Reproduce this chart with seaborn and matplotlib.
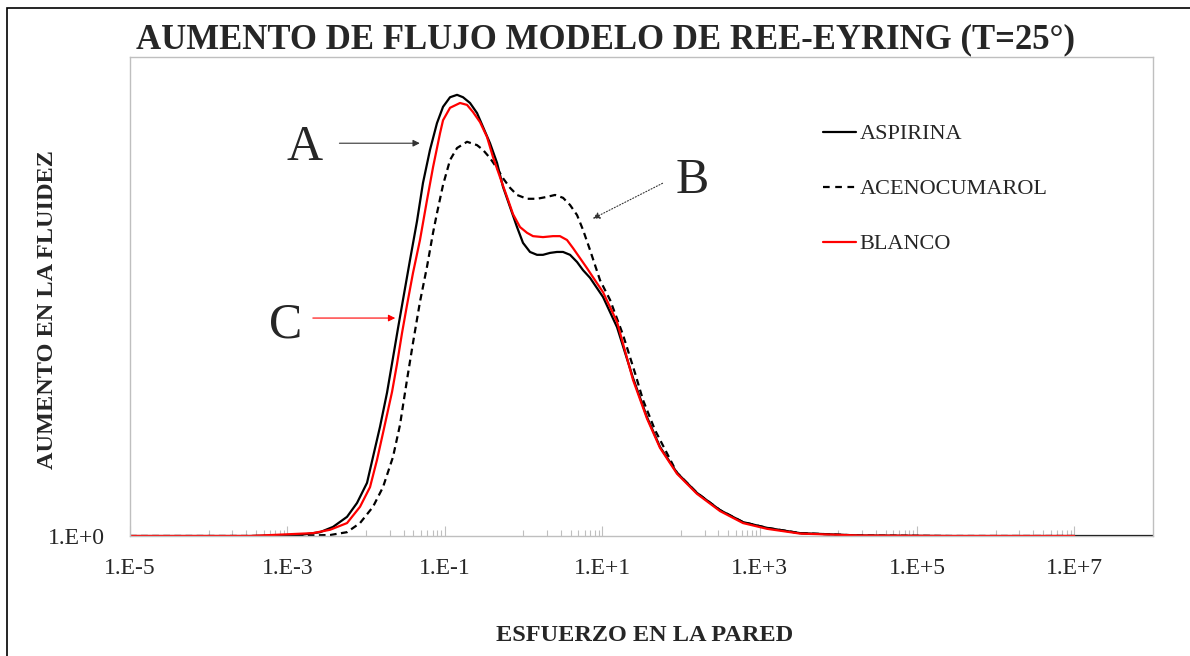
import numpy as np
import pandas as pd
import matplotlib
matplotlib.use('Agg')
import matplotlib.pyplot as plt
import matplotlib.ticker as mticker
from matplotlib.lines import Line2D
from matplotlib.patches import Rectangle
import seaborn as sns

# log10(esfuerzo en la pared) and aumento en la fluidez
aspirina_logx = [-5.000, -3.475, -2.840, -2.585, -2.420, -2.242, -2.115, -1.988, -1.912, -1.823,
                 -1.734, -1.658, -1.594, -1.531, -1.442, -1.353, -1.277, -1.188, -1.099, -1.022,
                 -0.933, -0.844, -0.768, -0.679, -0.590, -0.514, -0.425, -0.336, -0.260, -0.171,
                 -0.082, -0.006, 0.083, 0.172, 0.248, 0.337, 0.426, 0.503, 0.592, 0.681,
                 0.757, 0.846, 1.011, 1.189, 1.392, 1.570, 1.735, 1.951, 2.205, 2.498,
                 2.790, 3.095, 3.514, 4.277, 5.420, 8.000]
aspirina_y = [1.000, 1.000, 1.002, 1.008, 1.019, 1.040, 1.069, 1.111, 1.165, 1.228,
              1.299, 1.372, 1.434, 1.493, 1.576, 1.657, 1.737, 1.806, 1.862, 1.896,
              1.916, 1.921, 1.916, 1.904, 1.883, 1.854, 1.820, 1.779, 1.729, 1.687,
              1.645, 1.612, 1.593, 1.587, 1.587, 1.591, 1.593, 1.593, 1.587, 1.572,
              1.555, 1.539, 1.499, 1.436, 1.330, 1.248, 1.186, 1.132, 1.090, 1.054,
              1.029, 1.017, 1.006, 1.001, 1.000, 1.000]

aceno_logx = [-5.000, -3.094, -2.458, -2.242, -2.077, -1.912, -1.785, -1.658, -1.569, -1.480,
              -1.404, -1.315, -1.226, -1.149, -1.099, -1.022, -0.933, -0.844, -0.717, -0.590,
              -0.514, -0.425, -0.336, -0.260, -0.171, -0.082, 0.045, 0.172, 0.299, 0.401,
              0.503, 0.592, 0.681, 0.757, 0.846, 0.973, 1.100, 1.265, 1.418, 1.519,
              1.672, 1.951, 2.205, 2.498, 2.790, 3.095, 3.514, 4.277, 5.420, 7.000]
aceno_y = [1.000, 1.000, 1.002, 1.008, 1.027, 1.061, 1.102, 1.165, 1.232, 1.326,
           1.403, 1.489, 1.562, 1.633, 1.674, 1.733, 1.785, 1.810, 1.823, 1.816,
           1.806, 1.789, 1.768, 1.747, 1.727, 1.712, 1.704, 1.704, 1.708, 1.712,
           1.706, 1.691, 1.670, 1.639, 1.597, 1.534, 1.493, 1.420, 1.340, 1.284,
           1.221, 1.132, 1.090, 1.054, 1.029, 1.017, 1.006, 1.001, 1.000, 1.000]

blanco_logx = [-5.000, -3.475, -2.674, -2.458, -2.242, -2.077, -1.950, -1.861, -1.785, -1.670,
               -1.607, -1.543, -1.480, -1.404, -1.315, -1.226, -1.149, -1.060, -1.022, -0.933,
               -0.806, -0.717, -0.641, -0.552, -0.463, -0.387, -0.298, -0.209, -0.133, -0.044,
               0.045, 0.121, 0.248, 0.375, 0.464, 0.553, 0.630, 0.719, 0.808, 0.909,
               1.011, 1.189, 1.392, 1.570, 1.735, 1.951, 2.205, 2.498, 2.790, 3.095,
               3.514, 4.277, 5.420, 7.000]
blanco_y = [1.000, 1.000, 1.006, 1.013, 1.027, 1.061, 1.102, 1.159, 1.215, 1.301,
            1.359, 1.424, 1.482, 1.549, 1.618, 1.701, 1.770, 1.841, 1.868, 1.894,
            1.904, 1.900, 1.885, 1.864, 1.833, 1.791, 1.749, 1.708, 1.672, 1.645,
            1.633, 1.626, 1.624, 1.626, 1.626, 1.618, 1.601, 1.580, 1.559, 1.534,
            1.509, 1.447, 1.326, 1.245, 1.184, 1.130, 1.088, 1.052, 1.027, 1.015,
            1.005, 1.001, 1.000, 1.000]

xtick_labels = ['1.E-5', '1.E-3', '1.E-1', '1.E+1', '1.E+3', '1.E+5', '1.E+7']

sns.set_style('white')
plt.rcParams['font.family'] = ['Liberation Serif', 'DejaVu Serif']

fig = plt.figure(figsize=(11.9, 6.56), dpi=100)
ax = fig.add_axes([130/1190, 1 - 536/656, 1023/1190, 479/656])

series = [('ASPIRINA', aspirina_logx, aspirina_y, 'black', '-'),
          ('ACENOCUMAROL', aceno_logx, aceno_y, 'black', (0, (3, 2))),
          ('BLANCO', blanco_logx, blanco_y, 'red', '-')]
for name, lx, yv, col, ls in series:
    df = pd.DataFrame({'x': 10.0 ** np.array(lx), 'y': yv})
    sns.lineplot(data=df, x='x', y='y', ax=ax, color=col, linestyle=ls,
                 linewidth=1.6, sort=False, estimator=None)

ax.set_xscale('log')
ax.set_xlim(1e-5, 1e8)
ax.set_ylim(1, 2)

major = [10.0 ** e for e in range(-5, 8, 2)]
ax.xaxis.set_major_locator(mticker.FixedLocator(major))
ax.xaxis.set_major_formatter(mticker.FixedFormatter(xtick_labels))
minor = [k * 10.0 ** e for e in range(-4, 7, 2) for k in range(1, 10)]
ax.xaxis.set_minor_locator(mticker.FixedLocator(minor))
ax.xaxis.set_minor_formatter(mticker.NullFormatter())
ax.tick_params(axis='x', which='major', direction='in', length=7, width=0.8,
               color='#bfbfbf', labelsize=17, pad=16, bottom=True)
ax.tick_params(axis='x', which='minor', direction='in', length=4, width=0.8,
               color='#bfbfbf', bottom=True)
ax.set_yticks([1])
ax.set_yticklabels(['1.E+0'])
ax.tick_params(axis='y', length=0, labelsize=17, pad=18)

for sp in ax.spines.values():
    sp.set_color('#bfbfbf')
    sp.set_linewidth(1.0)

ax.set_xlabel('ESFUERZO EN LA PARED', fontsize=17.5, fontweight='bold')
ax.xaxis.set_label_coords(0.503, -0.185)
ax.set_ylabel('AUMENTO EN LA FLUIDEZ', fontsize=17.5, fontweight='bold')
ax.yaxis.set_label_coords(-0.070, 0.472)

handles = [Line2D([], [], color='black', lw=1.6),
           Line2D([], [], color='black', lw=1.6, linestyle=(0, (3, 2.5))),
           Line2D([], [], color='red', lw=1.6)]
ax.legend(handles, ['ASPIRINA', 'ACENOCUMAROL', 'BLANCO'], loc='upper left',
          bbox_to_anchor=(0.658, 0.902), frameon=False, fontsize=16,
          handlelength=1.5, handletextpad=0.15, labelspacing=1.55)

# letter annotations with arrows
ax.annotate('', xy=(0.286, 0.820), xytext=(0.202, 0.820), xycoords='axes fraction',
            arrowprops=dict(arrowstyle='-|>', color='#333333', lw=0.8, mutation_scale=10))
ax.text(0.171, 0.810, 'A', transform=ax.transAxes, fontsize=36, ha='center', va='center')
ax.annotate('', xy=(0.262, 0.455), xytext=(0.176, 0.455), xycoords='axes fraction',
            arrowprops=dict(arrowstyle='-|>', color='red', lw=0.8, mutation_scale=10))
ax.text(0.152, 0.440, 'C', transform=ax.transAxes, fontsize=36, ha='center', va='center')
ax.annotate('', xy=(0.450, 0.660), xytext=(0.523, 0.739), xycoords='axes fraction',
            arrowprops=dict(arrowstyle='-|>', color='#333333', lw=0.8, linestyle=':',
                            mutation_scale=10))
ax.text(0.550, 0.742, 'B', transform=ax.transAxes, fontsize=36, ha='center', va='center')

fig.text(605/1190, 1 - 40/656, 'AUMENTO DE FLUJO MODELO DE REE-EYRING (T=25°)',
         fontsize=25, fontweight='bold', ha='center', va='center')

fig.add_artist(Rectangle((7/1190, -0.1), 1.2, 1.1 - 8/656, transform=fig.transFigure,
                         fill=False, edgecolor='black', linewidth=1.2))

fig.savefig('out.png', dpi=100)
